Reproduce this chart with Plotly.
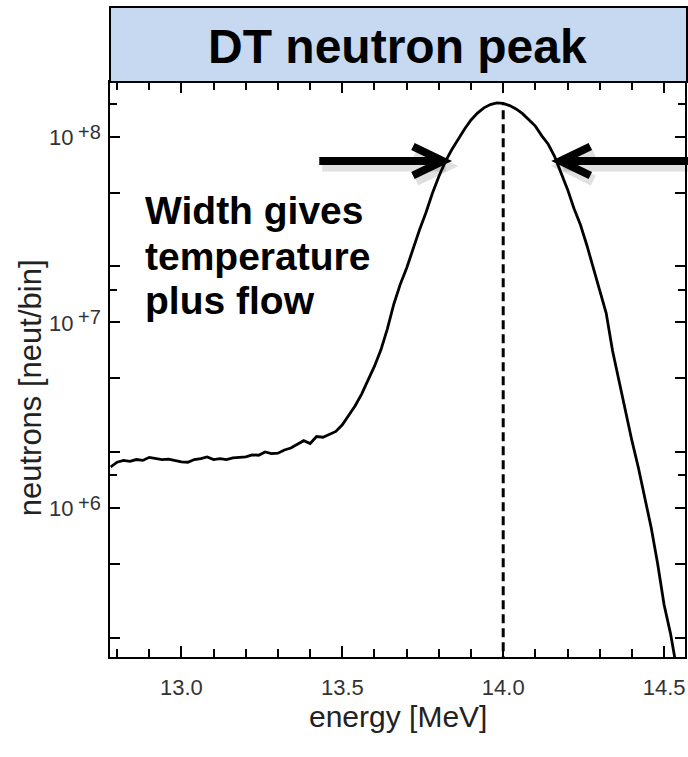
import math
import plotly.graph_objects as go

# ---------------- data ----------------
energy = [12.78, 12.80, 12.82, 12.84, 12.86, 12.88, 12.90, 12.92, 12.94, 12.96,
          12.98, 13.00, 13.02, 13.04, 13.06, 13.08, 13.10, 13.12, 13.14, 13.16,
          13.18, 13.20, 13.22, 13.24, 13.26, 13.28, 13.30, 13.32, 13.34, 13.36,
          13.38, 13.40, 13.42, 13.44, 13.46, 13.48, 13.50, 13.52, 13.54, 13.56,
          13.58, 13.60, 13.62, 13.64, 13.66, 13.68, 13.70, 13.72, 13.74, 13.76,
          13.78, 13.80, 13.82, 13.84, 13.86, 13.88, 13.90, 13.92, 13.94, 13.96,
          13.98, 14.00, 14.02, 14.04, 14.06, 14.08, 14.10, 14.12, 14.14, 14.16,
          14.18, 14.20, 14.22, 14.24, 14.26, 14.28, 14.30, 14.32, 14.34, 14.36,
          14.38, 14.40, 14.42, 14.44, 14.46, 14.48, 14.50, 14.52, 14.54, 14.56]

neutrons = [1.66e6, 1.76e6, 1.80e6, 1.78e6, 1.82e6, 1.80e6, 1.87e6, 1.85e6, 1.82e6, 1.83e6,
            1.80e6, 1.77e6, 1.76e6, 1.82e6, 1.84e6, 1.88e6, 1.82e6, 1.84e6, 1.82e6, 1.86e6,
            1.87e6, 1.88e6, 1.93e6, 1.92e6, 2.00e6, 1.96e6, 1.97e6, 2.05e6, 2.10e6, 2.20e6,
            2.30e6, 2.22e6, 2.42e6, 2.40e6, 2.50e6, 2.58e6, 2.80e6, 3.15e6, 3.55e6, 4.10e6,
            4.85e6, 5.80e6, 7.10e6, 9.2e6, 1.25e7, 1.60e7, 1.96e7, 2.52e7, 3.15e7, 3.90e7,
            4.95e7, 6.10e7, 7.33e7, 8.50e7, 9.70e7, 1.10e8, 1.23e8, 1.34e8, 1.43e8, 1.49e8,
            1.52e8, 1.51e8, 1.47e8, 1.41e8, 1.33e8, 1.23e8, 1.14e8, 1.01e8, 9.1e7, 7.8e7,
            6.4e7, 5.2e7, 4.1e7, 3.35e7, 2.60e7, 1.98e7, 1.50e7, 1.12e7, 7.0e6, 4.8e6,
            3.4e6, 2.3e6, 1.65e6, 1.15e6, 7.8e5, 5.0e5, 3.0e5, 2.1e5, 1.35e5, 8.5e4]

peak_energy = 14.0
peak_height = 1.51e8

x_major_vals = [13.0, 13.5, 14.0, 14.5]
x_major_text = ["13.0", "13.5", "14.0", "14.5"]
y_major_vals = [2e5, 5e5, 1e6, 2e6, 5e6, 1e7, 2e7, 5e7, 1e8]
y_minor_vals = [1.5e6, 1.5e7, 1.5e8]
y_label_vals = [1e6, 1e7, 1e8]
y_label_base = ["10", "10", "10"]
y_label_exp = ["+6", "+7", "+8"]

title_text = "DT neutron peak"
note_lines = ["Width gives", "temperature", "plus flow"]
x_title = "energy [MeV]"
y_title = "neutrons [neut/bin]"

# ---------------- layout geometry (pixels) ----------------
W, H = 688, 757
ML, MR, MT, MB = 110, 1, 82, 100
PW, PH = W - ML - MR, H - MT - MB


def px(x):
    return (x - ML) / PW


def py(y):
    return (H - MB - y) / PH


FONT = "Liberation Sans, Arial, Helvetica, sans-serif"

fig = go.Figure()
fig.add_trace(go.Scatter(x=[peak_energy, peak_energy], y=[1.0e5, peak_height], mode="lines",
                         line=dict(color="black", width=3, dash="9px,5px"),
                         hoverinfo="skip", showlegend=False))
fig.add_trace(go.Scatter(x=energy, y=neutrons, mode="lines",
                         line=dict(color="black", width=2.8),
                         showlegend=False))

shapes = []
# title box
shapes.append(dict(type="rect", xref="paper", yref="paper",
                   x0=px(110), x1=px(689), y0=py(82), y1=py(7),
                   fillcolor="#C6D9F1", line=dict(color="black", width=2), layer="above"))


def arrow(x_tail, x_tip, y, direction):
    out = []
    back = 30 * direction
    for dx, dy, col, wd in [(3, 5, "rgba(0,0,0,0.12)", 11), (0, 0, "black", 8)]:
        out.append(dict(type="line", xref="paper", yref="paper",
                        x0=px(x_tail + dx), x1=px(x_tip + dx), y0=py(y + dy), y1=py(y + dy),
                        line=dict(color=col, width=wd), layer="above"))
        path = "M {},{} L {},{} L {},{}".format(
            px(x_tip - back + dx), py(y - 14.5 + dy), px(x_tip + dx), py(y + dy),
            px(x_tip - back + dx), py(y + 14.5 + dy))
        out.append(dict(type="path", xref="paper", yref="paper", path=path,
                        line=dict(color=col, width=wd), layer="above"))
    return out


shapes += arrow(320, 444, 161, 1)
shapes += arrow(690, 562, 161, -1)

annotations = [
    dict(text="<b>" + title_text + "</b>", xref="paper", yref="paper", x=px(399), y=py(46),
         xanchor="center", yanchor="middle", showarrow=False,
         font=dict(family=FONT, size=48, color="black")),
    dict(text=x_title, xref="paper", yref="paper", x=px(399), y=py(716),
         xanchor="center", yanchor="middle", showarrow=False,
         font=dict(family=FONT, size=30, color="#222")),
    dict(text=y_title, xref="paper", yref="paper", x=px(30), y=py(388),
         xanchor="center", yanchor="middle", showarrow=False, textangle=-90,
         font=dict(family=FONT, size=31, color="#222")),
]
for line, yc in zip(note_lines, [210, 256, 300]):
    annotations.append(dict(text="<b>" + line + "</b>", xref="paper", yref="paper",
                            x=px(143), y=py(yc), xanchor="left", yanchor="middle",
                            showarrow=False, font=dict(family=FONT, size=39, color="black")))

# y tick labels "10" with large superscript exponent (log axis: annotation y is log10)
for v, base, ex in zip(y_label_vals, y_label_base, y_label_exp):
    annotations.append(dict(text=base, xref="paper", yref="y", x=px(75), y=math.log10(v),
                            xanchor="right", yanchor="middle", yshift=-1, showarrow=False,
                            font=dict(family=FONT, size=22, color="#333")))
    annotations.append(dict(text=ex, xref="paper", yref="y", x=px(76), y=math.log10(v),
                            xanchor="left", yanchor="middle", yshift=5, showarrow=False,
                            font=dict(family=FONT, size=20, color="#333")))

fig.update_layout(
    width=W, height=H, margin=dict(l=ML, r=MR, t=MT, b=MB),
    paper_bgcolor="white", plot_bgcolor="white",
    shapes=shapes, annotations=annotations,
    xaxis=dict(range=[12.778, 14.565], showgrid=False, zeroline=False,
               showline=True, linecolor="black", linewidth=2, mirror="ticks",
               ticks="inside", ticklen=11, tickwidth=1.5, tickcolor="black",
               tickmode="array", tickvals=x_major_vals, ticktext=x_major_text,
               ticklabelstandoff=10,
               tickfont=dict(family=FONT, size=22, color="#333"),
               minor=dict(ticks="inside", ticklen=8, tickwidth=1.5, tickcolor="black",
                          dtick=0.1, tick0=12.8, showgrid=False)),
    yaxis=dict(type="log", range=[5.196, 8.2946], showgrid=False, zeroline=False,
               showline=True, linecolor="black", linewidth=2, mirror="ticks",
               ticks="inside", ticklen=10, tickwidth=1.5, tickcolor="black",
               tickmode="array", tickvals=y_major_vals, showticklabels=False,
               minor=dict(ticks="inside", ticklen=7, tickwidth=1.5, tickcolor="black",
                          tickmode="array", tickvals=y_minor_vals, showgrid=False)),
)

fig.write_html("out.html")
